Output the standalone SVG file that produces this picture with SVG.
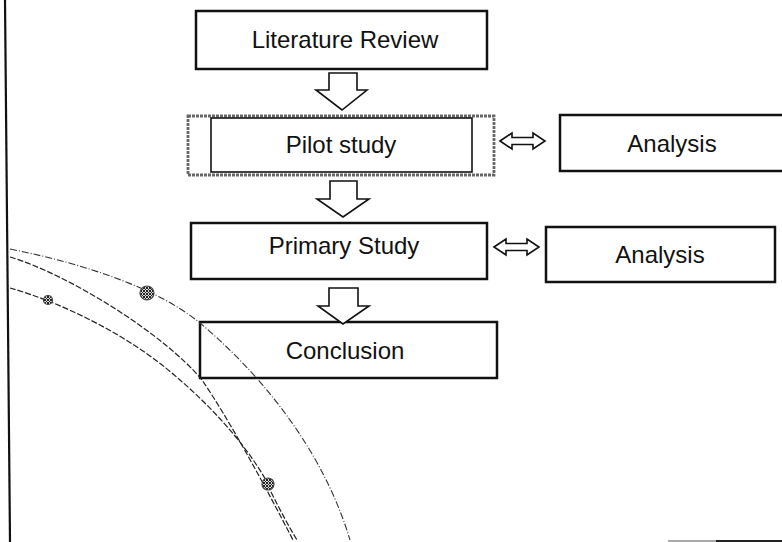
<svg xmlns="http://www.w3.org/2000/svg" width="782" height="542" viewBox="0 0 782 542">
<style>
.box{fill:#fff;stroke:#111;stroke-width:2.5}
.lbl{font-family:"Liberation Sans",Arial,sans-serif;font-size:24px;fill:#111;text-anchor:middle}
.blk{fill:#fff;stroke:#111;stroke-width:1.6;stroke-linejoin:miter}
.curve{fill:none;stroke:#222;stroke-width:1.2;stroke-dasharray:6 2}
.curveA{fill:none;stroke:#333;stroke-width:1.1;stroke-dasharray:7 2 1 2}
.dot{fill:url(#hatch);stroke:#444;stroke-width:1.2}
</style>
<defs>
<pattern id="hatch" width="3" height="3" patternUnits="userSpaceOnUse">
<rect width="3" height="3" fill="#ddd"/>
<path d="M0,0 L3,3 M3,0 L0,3" stroke="#222" stroke-width="1"/>
</pattern>
</defs>

<line x1="5" y1="0" x2="10" y2="542" stroke="#111" stroke-width="2.2"/>
<line x1="668" y1="541" x2="716" y2="541" stroke="#aaa" stroke-width="2"/>
<line x1="716" y1="541" x2="782" y2="541" stroke="#222" stroke-width="2"/>

<g id="n-lit">
<rect class="box" x="196" y="11" width="291" height="58"/>
<text class="lbl" x="345" y="48">Literature Review</text>
</g>

<g id="n-pilot">
<rect x="188" y="116" width="306" height="59" fill="#fff" stroke="#666" stroke-width="2.8" stroke-dasharray="3 1"/>
<rect x="211" y="118" width="261" height="54" fill="#fff" stroke="#111" stroke-width="1.6"/>
<text class="lbl" x="341" y="153">Pilot study</text>
</g>

<g id="n-an1">
<rect class="box" x="560" y="115" width="232" height="56"/>
<text class="lbl" x="672" y="152">Analysis</text>
</g>

<g id="n-primary">
<rect class="box" x="191" y="223" width="296" height="56"/>
<text class="lbl" x="344" y="254">Primary Study</text>
</g>

<g id="n-an2">
<rect class="box" x="546" y="227" width="229" height="55"/>
<text class="lbl" x="660" y="263">Analysis</text>
</g>

<g id="n-concl">
<rect class="box" x="200" y="322" width="297" height="56"/>
<text class="lbl" x="345" y="359">Conclusion</text>
</g>

<g id="connectors">
<polygon class="blk" points="329,73 357,73 357,90 367,90 342,110 316,90 329,90"/>
<polygon class="blk" points="330,181 357,181 357,199 369,199 343,217 317,199 330,199"/>
<polygon class="blk" points="329,288 358,288 358,306 369,306 343,324 318,306 329,306"/>
<polygon class="blk" points="500,141 512,133 512,137.5 533,137.5 533,133 545,141 533,149 533,144.5 512,144.5 512,149"/>
<polygon class="blk" points="494,247 506,239 506,243.5 527,243.5 527,239 539,247 527,255 527,250.5 506,250.5 506,255"/>
</g>

<g id="curves">
<path class="curveA" d="M10,249 C90,265 160,290 200,323 C250,365 320,440 350,540"/>
<path class="curve" d="M10,257 C70,275 165,335 202,380 C228,418 262,480 293,540"/>
<path class="curve" d="M271,492 C280,510 288,525 297,540"/>
<path class="curve" d="M10,288 C60,302 130,335 180,380 C215,410 250,450 268,484"/>
<circle class="dot" cx="147" cy="293" r="7"/>
<circle class="dot" cx="48" cy="300" r="4.5"/>
<circle class="dot" cx="268" cy="484" r="6"/>
</g>
</svg>
